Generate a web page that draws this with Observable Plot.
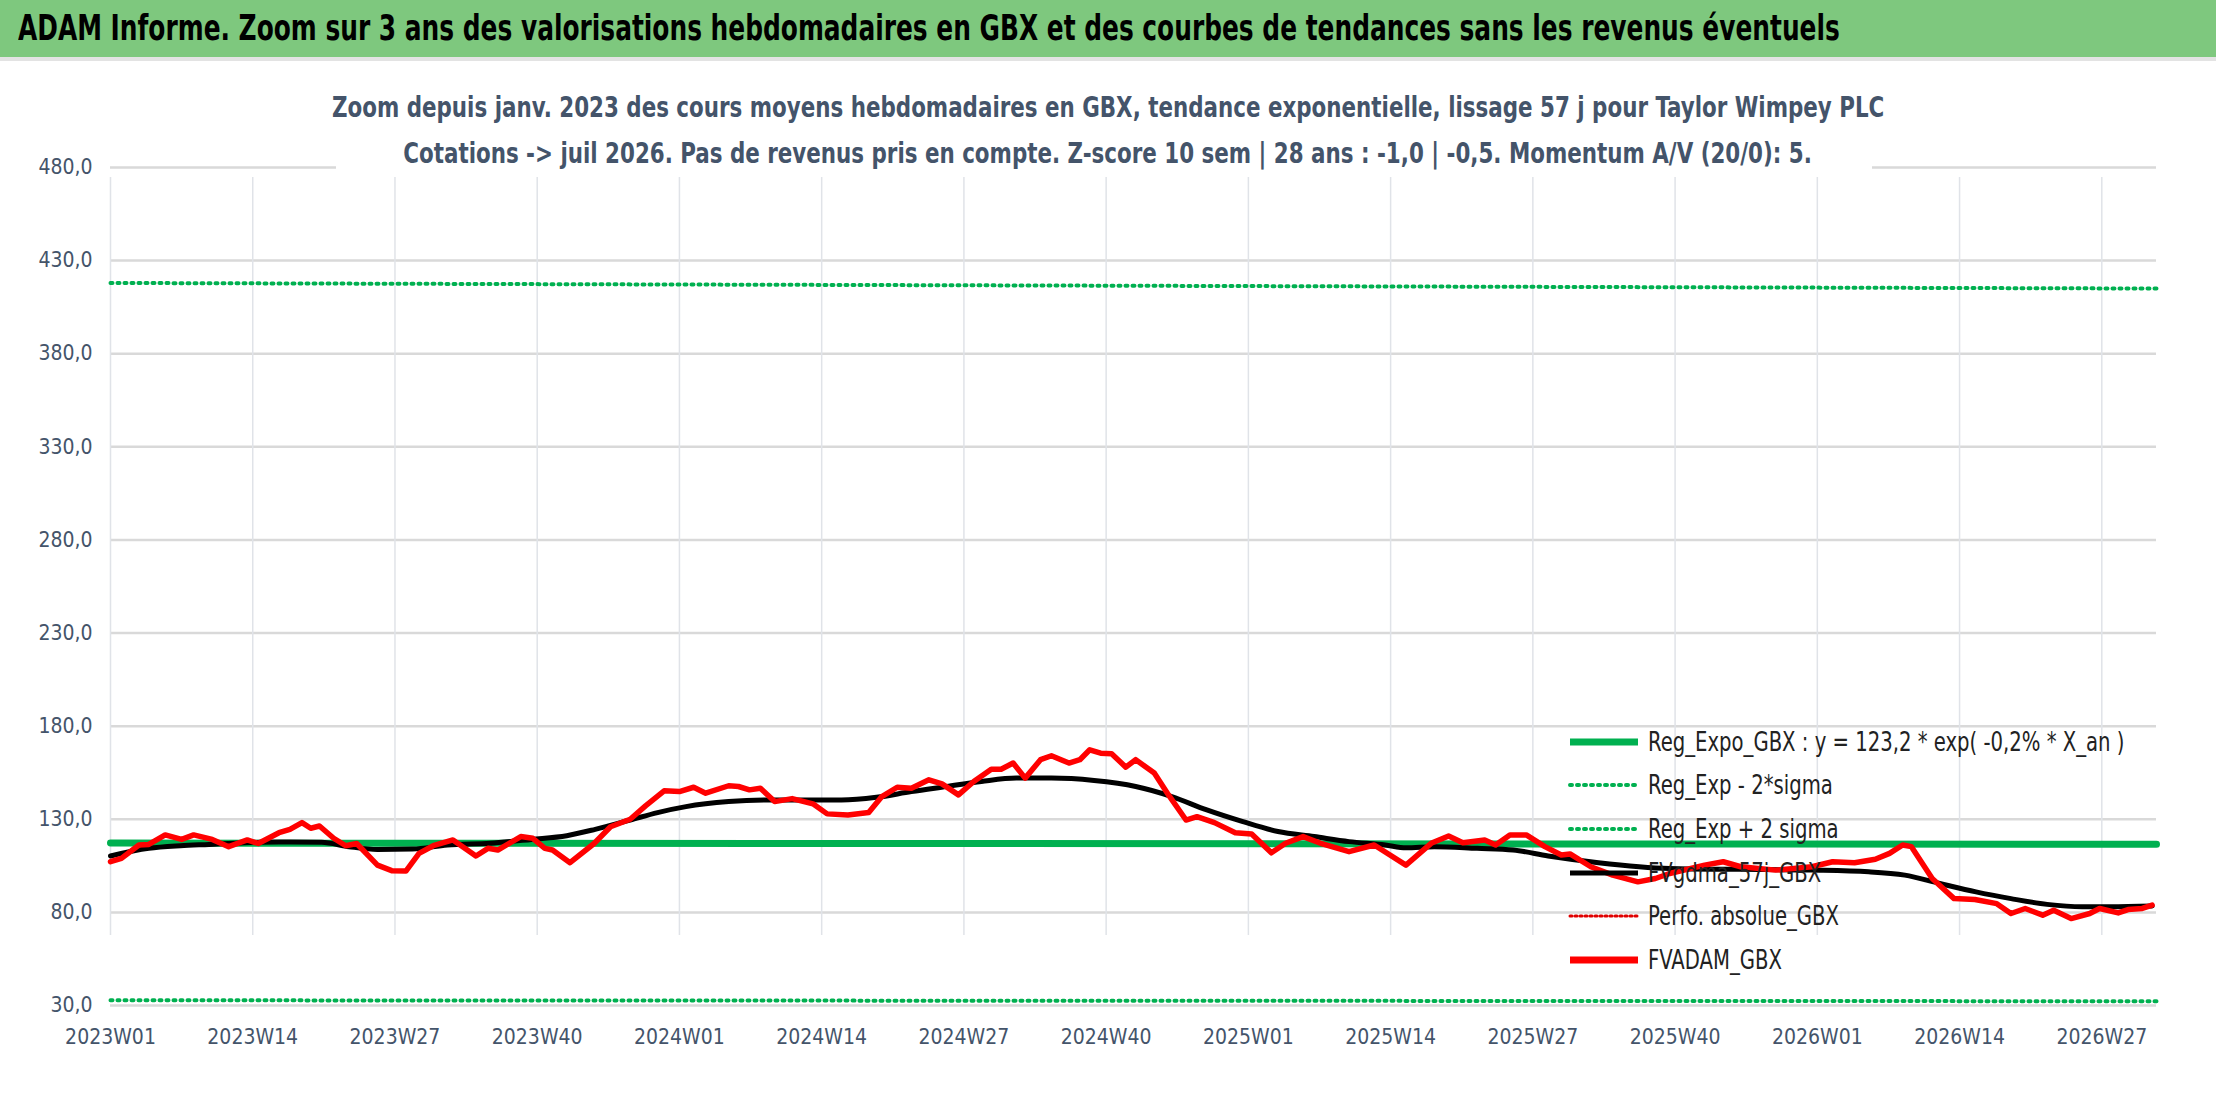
<!DOCTYPE html>
<html><head><meta charset="utf-8">
<script src="https://cdn.jsdelivr.net/npm/d3@7"></script>
<script src="https://cdn.jsdelivr.net/npm/@observablehq/plot@0.6"></script>
<style>
body{margin:0;background:#fff;font-family:"DejaVu Sans Condensed","DejaVu Sans",sans-serif;}
#wrap{position:relative;width:2216px;height:1102px;overflow:hidden;}
#title{height:57px;background:#7ec87e;border-bottom:4px solid #e3e3e3;font-weight:bold;font-size:35px;line-height:57px;padding-left:18px;color:#000;white-space:nowrap;}
#title span{display:inline-block;transform:scaleX(0.79);transform-origin:left center;}
#subbox{position:absolute;left:336px;width:1536px;top:85px;height:92px;background:#fff;}
#sub{position:absolute;left:108px;width:2000px;top:85px;height:92px;text-align:center;color:#44546a;font-weight:bold;font-size:28px;line-height:46px;white-space:nowrap;}
#sub span{display:inline-block;transform:scaleX(0.85);}
#legend{position:absolute;left:1568px;top:720px;font-size:26px;color:#222;}
#legend div{height:43.6px;display:flex;align-items:center;white-space:nowrap;}
#legend svg{margin-right:8px;}
#legend span{display:inline-block;transform:scaleX(0.84);transform-origin:left center;}
#chart{position:absolute;top:57px;left:0;}
</style></head><body>
<div id="wrap">
<div id="title"><span>ADAM Informe. Zoom sur 3 ans des valorisations hebdomadaires en GBX et des courbes de tendances sans les revenus éventuels</span></div>
<div id="chart"></div>
<div id="subbox"></div>
<div id="sub"><span>Zoom depuis janv. 2023 des cours moyens hebdomadaires en GBX, tendance exponentielle, lissage 57 j pour Taylor Wimpey PLC</span><br><span>Cotations -&gt; juil 2026. Pas de revenus pris en compte. Z-score 10 sem | 28 ans : -1,0 | -0,5. Momentum A/V (20/0): 5.</span></div>
<div id="legend"></div>
</div>
<script>
const tickWeeks=[0,13,26,39,52,65,78,91,104,117,130,143,156,169,182];
const tickLabels=["2023W01","2023W14","2023W27","2023W40","2024W01","2024W14","2024W27","2024W40","2025W01","2025W14","2025W27","2025W40","2026W01","2026W14","2026W27"];
const yTicks=[30,80,130,180,230,280,330,380,430,480];
const redW=[0,1,2.6,3.5,5,6.5,7.6,9.3,10.8,12.5,13.5,15.4,16.4,17.5,18.3,19.1,20.4,21.5,22.5,24.4,25.7,27,28.2,29.5,31.3,33.4,34.5,35.4,37.5,38.6,39.7,40.4,42,44.2,45.7,47.5,48.9,50.6,52,53.3,54.4,56.5,57.4,58.4,59.4,60.7,62.3,64.2,65.5,67.4,69.3,70.5,71.9,73.2,74.8,76,77.5,78.9,80.5,81.4,82.5,83.6,85,86,87.6,88.6,89.5,90.5,91.5,92.8,93.7,95.4,96.7,98.3,99.3,100.9,102.8,104.3,106.1,107.4,109,110.6,113.2,115.5,118.4,120.7,122.3,123.6,125.6,126.6,127.9,129.4,131.1,132.6,133.4,135.3,137.3,139.6,141.2,142.5,145.7,147.4,149,152.2,155.5,157.4,159.4,161.3,162.6,163.8,164.6,166.5,168.5,170.4,172.4,173.7,175,176.6,177.6,179.2,180.9,181.8,183.5,184.4,185.7,186.6];
const redV=[107.2,109,116.2,116.5,121.6,119.2,121.6,119.2,115.3,118.9,117,122.8,124.6,128.2,125.2,126.4,119.8,115.8,117,105.4,102.4,102.2,111.7,115.8,118.9,110.3,114.4,113.5,120.7,119.8,114.4,113.5,106.7,117,126,130,137.2,145.3,144.9,147.2,144,148,147.6,145.8,146.7,139.5,141.1,138.3,132.9,132.3,133.6,142.2,147.2,146.7,151.2,149,143.1,150.3,156.9,156.9,160.2,152.1,162,164.1,160.2,162,167.3,165.5,165.2,158,162,154.8,143.1,129.6,131.4,128.2,122.8,122.1,112,117.1,120.7,117.1,112.6,116.2,105.4,117.1,121,117.4,118.9,116.2,121.6,121.6,115.3,110.8,111.4,104.5,100,96.4,98.2,100.9,105.4,107.2,104.5,102.7,104.5,107.2,106.7,108.5,111.7,116.2,115.3,98.2,87.4,86.9,84.7,79.4,82.1,78.5,81.2,76.7,79.4,82.1,79.7,81.5,82.1,83.9];
const blackW=[0,3.5,6.4,9,12.2,15.4,19.3,21.8,24.4,27.6,30.8,34.7,38.5,41.7,44.3,47.5,50,52.6,56.5,60.3,66.8,70,73.2,76.4,79.6,82.8,86,89.9,93.7,97,100.2,103.5,106.7,110,113.2,116.5,118.4,121,124.9,128.2,131.4,136,142.5,149,155.5,160.7,164,167.2,170.5,173.7,177,180.2,182.8,186.6];
const blackV=[110.3,114.4,115.8,116.5,117.4,117.8,117.6,115.3,113.8,114,116.2,117.1,119.2,121.2,124.6,129.6,133.6,136.8,139.5,140.4,140.4,141.8,144.9,147.6,150.3,152.1,152.1,150.8,147.6,142.2,135,128.7,123.4,120.7,118,116.2,114.7,115.3,114.4,113.5,110.3,106.7,103.6,103.1,102.7,101.8,100,95.5,91,87.4,84.3,83,83,83.4];
const regW=[0,187], regV=[117.2,116.6], lowV=[32.8,32.3], upV=[418,415];
const legendItems=[["Reg_Expo_GBX : y = 123,2 * exp( -0,2% *  X_an )","#00b050",7,null],["Reg_Exp - 2*sigma","#00b050",4,"2,5"],["Reg_Exp + 2 sigma","#00b050",4,"2,5"],["FVgdma_57j_GBX","#000",5,null],["Perfo. absolue_GBX","#e00000",3,"2,3"],["FVADAM_GBX","#ff0000",7,null]];

const red=redW.map((w,i)=>({w,v:redV[i]}));
const blk=blackW.map((w,i)=>({w,v:blackV[i]}));
const reg=regW.map((w,i)=>({w,v:regV[i]}));
const low=regW.map((w,i)=>({w,v:lowV[i]}));
const up=regW.map((w,i)=>({w,v:upV[i]}));
const lab=d3.format(".1f");
const chart=Plot.plot({
  width:2216,height:1045,marginLeft:110,marginRight:60,marginTop:110,marginBottom:97,
  style:{fontFamily:"DejaVu Sans Condensed, DejaVu Sans, sans-serif",fontSize:"21px",color:"#44546a",background:"transparent"},
  x:{domain:[0,187],ticks:tickWeeks,tickFormat:(d)=>tickLabels[tickWeeks.indexOf(d)],tickSize:0,tickPadding:24,label:null},
  y:{domain:[30,480],ticks:yTicks,tickFormat:d=>lab(d).replace(".",","),tickSize:0,tickPadding:18,label:null},
  marks:[
    Plot.ruleY(yTicks,{stroke:"#d9d9d9",strokeWidth:2.5}),
    Plot.ruleX(tickWeeks,{y1:30,y2:480,stroke:"#e0e3e8",strokeWidth:1.5,insetTop:-70,insetBottom:-10}),
    Plot.line(up,{x:"w",y:"v",stroke:"#00b050",strokeWidth:4,strokeDasharray:"2,5",strokeLinecap:"round"}),
    Plot.line(low,{x:"w",y:"v",stroke:"#00b050",strokeWidth:4,strokeDasharray:"2,5",strokeLinecap:"round"}),
    Plot.line(reg,{x:"w",y:"v",stroke:"#00b050",strokeWidth:7}),
    Plot.line(blk,{x:"w",y:"v",stroke:"#000",strokeWidth:5,curve:"monotone-x"}),
    Plot.line(red,{x:"w",y:"v",stroke:"#ff0000",strokeWidth:5.5,strokeLinejoin:"round"})
  ]
});
document.getElementById("chart").appendChild(chart);
const lg=document.getElementById("legend");
legendItems.forEach(([t,c,w,da])=>{
  const d=document.createElement("div");
  d.innerHTML=`<svg width="72" height="12"><line x1="2" x2="70" y1="6" y2="6" stroke="${c}" stroke-width="${w}" ${da?`stroke-dasharray="${da}" stroke-linecap="round"`:""}/></svg><span>${t}</span>`;
  lg.appendChild(d);
});
</script>
</body></html>
